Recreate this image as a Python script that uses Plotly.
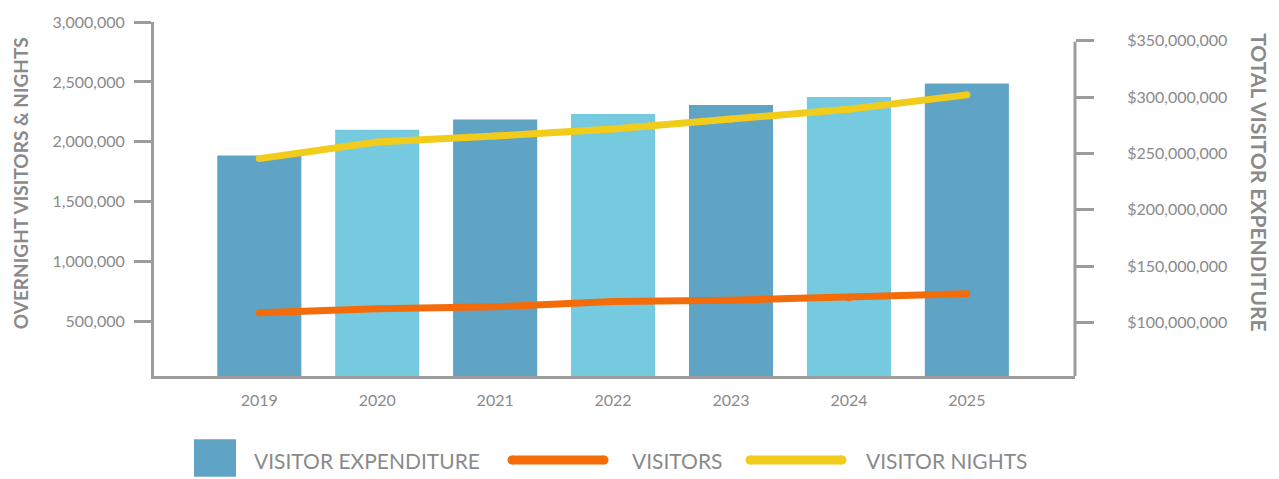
import plotly.graph_objects as go

# ---- data ----
years = [2019, 2020, 2021, 2022, 2023, 2024, 2025]
expenditure = [248e6, 271e6, 280e6, 285e6, 293e6, 300e6, 312e6]
visitors = [574000, 607000, 624000, 667000, 679000, 700000, 733000]
visitor_nights = [1860000, 1998000, 2048000, 2108000, 2190000, 2272000, 2392000]
left_ticks = [500000, 1000000, 1500000, 2000000, 2500000, 3000000]
left_tick_text = ["500,000", "1,000,000", "1,500,000", "2,000,000", "2,500,000", "3,000,000"]
right_ticks = [100e6, 150e6, 200e6, 250e6, 300e6, 350e6]
right_tick_text = ["$100,000,000", "$150,000,000", "$200,000,000", "$250,000,000",
                   "$300,000,000", "$350,000,000"]

# ---- style ----
W, H = 1279, 479
PL, PR, PT, PB = 154, 1075, 18, 376
DARK = "#5FA4C4"
LIGHT = "#76CAE0"
ORANGE = "#F46C0A"
YELLOW = "#F1CC1B"
GRAY_LINE = "#9c9c9c"
GRAY_TEXT = "#8a8a8a"
FONT = "Lato"

bar_colors = [DARK if i % 2 == 0 else LIGHT for i in range(len(years))]


def px(xp):
    return (xp - PL) / (PR - PL)


def py(yp):
    return (PB - yp) / (PB - PT)


fig = go.Figure()
# bars on the primary (right-side) axis so the lines on y2 render on top
fig.add_trace(go.Bar(x=years, y=expenditure, marker=dict(color=bar_colors, line=dict(width=0)),
                     width=0.713, yaxis="y", name="VISITOR EXPENDITURE", showlegend=False))
fig.add_trace(go.Scatter(x=years, y=visitors, mode="lines+markers", yaxis="y2",
                         line=dict(color=ORANGE, width=7), marker=dict(color=ORANGE, size=7),
                         name="VISITORS", showlegend=False))
fig.add_trace(go.Scatter(x=years, y=visitor_nights, mode="lines+markers", yaxis="y2",
                         line=dict(color=YELLOW, width=7), marker=dict(color=YELLOW, size=7),
                         name="VISITOR NIGHTS", showlegend=False))

shapes = []
annotations = []

# right axis line (shorter than plot height)
shapes.append(dict(type="line", xref="paper", yref="paper", x0=1, x1=1, y0=0, y1=py(38),
                   line=dict(color=GRAY_LINE, width=3)))

# legend
shapes.append(dict(type="rect", xref="paper", yref="paper", x0=px(194), x1=px(236),
                   y0=py(440), y1=py(478), fillcolor=DARK, line=dict(width=0)))
for (xa, xb, col) in [(512, 604, ORANGE), (750, 842, YELLOW)]:
    yc = py(461)
    shapes.append(dict(type="line", xref="paper", yref="paper", x0=px(xa), x1=px(xb),
                       y0=yc, y1=yc, line=dict(color=col, width=9)))
    for xe in (xa, xb):
        shapes.append(dict(type="circle", xref="paper", yref="paper", xsizemode="pixel",
                           ysizemode="pixel", xanchor=px(xe), yanchor=yc,
                           x0=-4.5, x1=4.5, y0=-4.5, y1=4.5, fillcolor=col, line=dict(width=0)))
for (xl, txt) in [(252, "VISITOR EXPENDITURE"), (630, "VISITORS"), (864, "VISITOR NIGHTS")]:
    annotations.append(dict(xref="paper", yref="paper", x=px(xl), y=py(461), xanchor="left",
                            yanchor="middle", text=txt, showarrow=False,
                            font=dict(family=FONT, size=21, color=GRAY_TEXT)))

# axis titles
annotations.append(dict(xref="paper", yref="paper", x=px(20), y=py(181), xanchor="center",
                        yanchor="middle", text="<b>OVERNIGHT VISITORS & NIGHTS</b>", textangle=-90,
                        showarrow=False, font=dict(family=FONT, size=19, color=GRAY_TEXT)))
annotations.append(dict(xref="paper", yref="paper", x=px(1260), y=py(180), xanchor="center",
                        yanchor="middle", text="<b>TOTAL VISITOR EXPENDITURE</b>", textangle=90,
                        showarrow=False, font=dict(family=FONT, size=21, color=GRAY_TEXT)))

fig.update_layout(
    width=W, height=H,
    margin=dict(l=PL, r=W - PR, t=PT, b=H - PB, pad=0),
    plot_bgcolor="white", paper_bgcolor="white",
    font=dict(family=FONT, color=GRAY_TEXT, size=16),
    xaxis=dict(range=[2018.107, 2025.917], tickvals=years, ticktext=[str(y) for y in years],
               showgrid=False, zeroline=False, showline=True, linecolor=GRAY_LINE, linewidth=3,
               ticks="", ticklabelstandoff=8, tickfont=dict(family=FONT, size=16, color=GRAY_TEXT)),
    yaxis=dict(range=[52.4e6, 366.6e6], tickvals=right_ticks, ticktext=right_tick_text,
               side="right", showgrid=False, zeroline=False, showline=False,
               ticks="outside", ticklen=18, tickwidth=3, tickcolor=GRAY_LINE,
               ticklabelstandoff=30, tickfont=dict(family=FONT, size=16, color=GRAY_TEXT)),
    yaxis2=dict(range=[46000, 3000000], tickvals=left_ticks, ticktext=left_tick_text,
                overlaying="y", side="left",
                showgrid=False, zeroline=False, showline=True, linecolor=GRAY_LINE, linewidth=3,
                ticks="outside", ticklen=17, tickwidth=3, tickcolor=GRAY_LINE,
                ticklabelstandoff=6, tickfont=dict(family=FONT, size=16, color=GRAY_TEXT)),
    shapes=shapes, annotations=annotations,
)

fig.write_html("out.html", config={"displayModeBar": False},
               post_script="document.body.style.margin='0';document.body.style.overflow='hidden';")
